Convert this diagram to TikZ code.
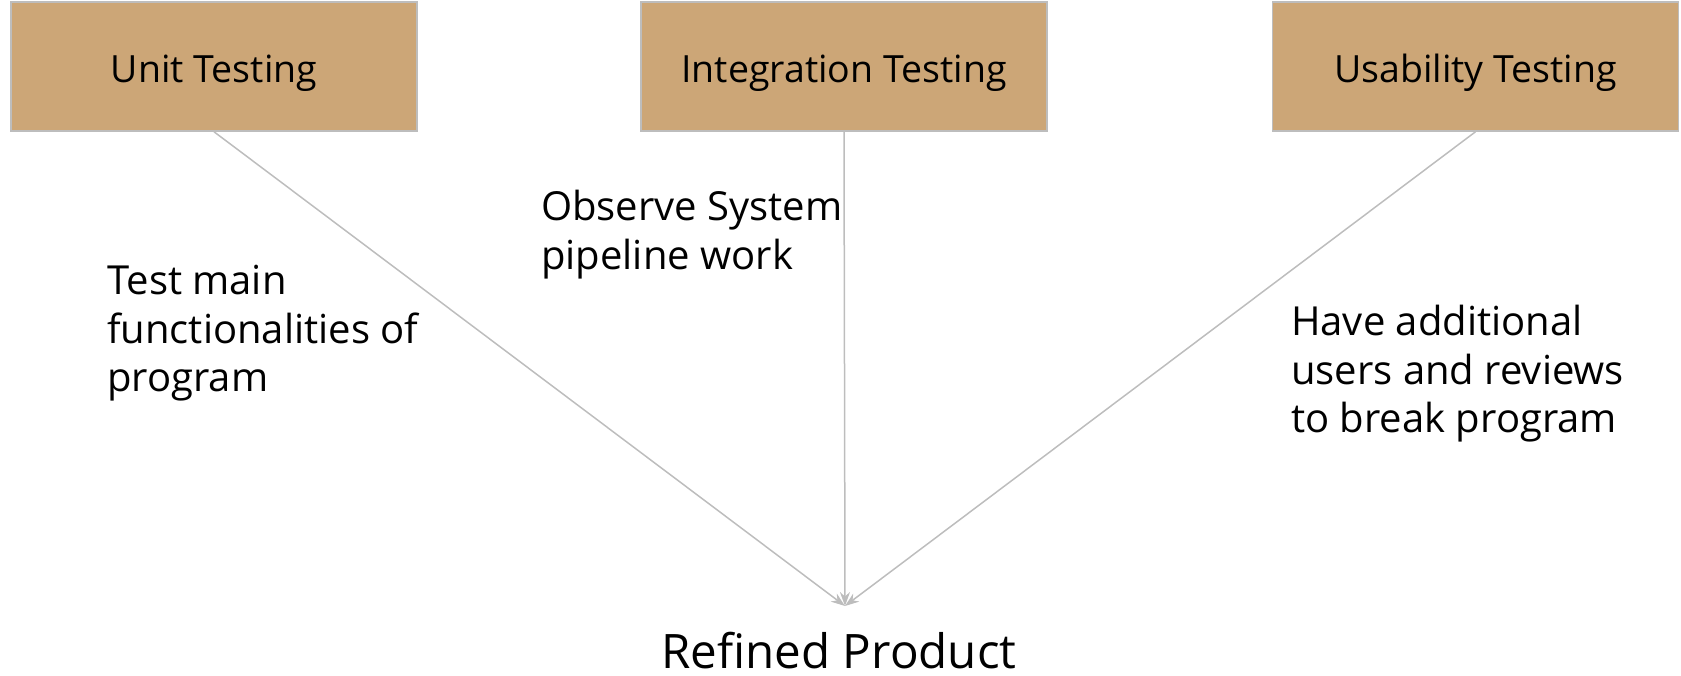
\documentclass[tikz,border=0pt]{standalone}
\usepackage{fontspec}
\setmainfont{Open Sans}
\usetikzlibrary{arrows.meta}
\definecolor{boxfill}{HTML}{CCA677}
\definecolor{linegray}{HTML}{BDBDBD}
\tikzset{
  testbox/.style={draw=linegray, line width=1.5pt, fill=boxfill, minimum width=406pt, minimum height=129pt, inner sep=0pt, text height=31pt, text depth=0pt, font=\fontsize{37.5}{45}\selectfont},
  note/.style={anchor=north west, align=left, inner sep=0pt, font=\fontsize{40}{48.5}\selectfont},
  conn/.style={draw=linegray, line width=1.5pt, -{Stealth[length=14pt,width=10pt]}}
}
\begin{document}
\begin{tikzpicture}[x=1pt,y=-1pt]
\useasboundingbox (0,0) rectangle (1681,675);
\node[testbox] (unit) at (214,66.5) {Unit Testing};
\node[testbox] (integ) at (844,66.5) {Integration Testing};
\node[testbox] (usab) at (1475.5,66.5) {Usability Testing};
\coordinate (goal) at (845,606);
\node[anchor=base, inner sep=0pt, font=\fontsize{47.5}{55}\selectfont] (prod) at (839,668) {Refined Product};
\draw[conn] (unit.south) -- (goal);
\draw[conn] (integ.south) -- (goal);
\draw[conn] (usab.south) -- (goal);
\node[note] (n1) at (107,265) {Test main\\functionalities of\\program};
\node[note] (n2) at (541,190) {Observe System\\pipeline work};
\node[note] (n3) at (1291,305) {Have additional\\users and reviews\\to break program};
\end{tikzpicture}
\end{document}
